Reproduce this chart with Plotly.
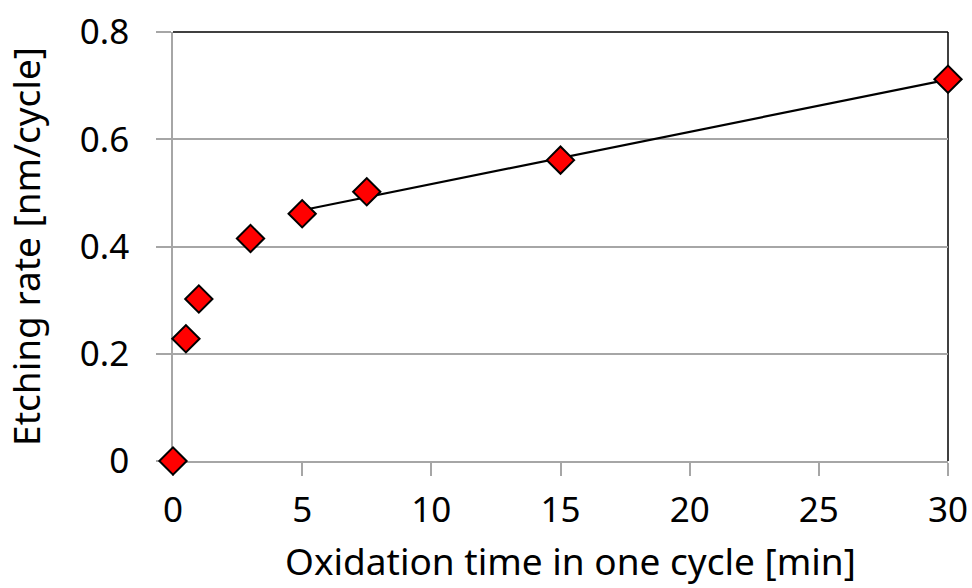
import numpy as np
import plotly.graph_objects as go

# Oxidation time per cycle [min] and measured etching rate [nm/cycle]
oxidation_min = [0, 0.5, 1, 3, 5, 7.5, 15, 30]
etch_rate = [0.0, 0.228, 0.302, 0.415, 0.461, 0.502, 0.561, 0.712]

# Linear trend fitted over the 5–30 min range
fit_x = [5, 7.5, 15, 30]
fit_y = [0.461, 0.502, 0.561, 0.712]

x_ticks = [0, 5, 10, 15, 20, 25, 30]
y_ticks = [0, 0.2, 0.4, 0.6, 0.8]
y_tick_text = ["0", "0.2", "0.4", "0.6", "0.8"]

x_title = "Oxidation time in one cycle [min]"
y_title = "Etching rate [nm/cycle]"

slope, intercept = np.polyfit(fit_x, fit_y, 1)
line_x = [min(fit_x), max(fit_x)]
line_y = [slope * v + intercept for v in line_x]

FONT = "Noto Sans"
GRAY = "#a6a6a6"
TICK_SIZE = 35
TITLE_SIZE = 37

fig = go.Figure()
fig.add_trace(go.Scatter(
    x=line_x, y=line_y, mode="lines",
    line=dict(color="black", width=2.2),
    hoverinfo="skip", showlegend=False,
))
fig.add_trace(go.Scatter(
    x=oxidation_min, y=etch_rate, mode="markers",
    marker=dict(symbol="diamond", size=21, color="#ff0000",
                line=dict(color="black", width=2)),
    showlegend=False, cliponaxis=False,
))

fig.update_layout(
    width=972, height=588,
    margin=dict(l=173, r=24, t=32, b=127),
    paper_bgcolor="white", plot_bgcolor="white",
    font=dict(family=FONT, color="black", size=TICK_SIZE),
    xaxis=dict(
        range=[0, 30], tickvals=x_ticks, ticks="outside", ticklen=13,
        tickcolor=GRAY, tickwidth=1.5, showline=True, linecolor=GRAY,
        linewidth=1.5, showgrid=False, zeroline=False, layer="below traces",
        automargin=False, ticklabelstandoff=4,
        tickfont=dict(size=TICK_SIZE, family=FONT),
    ),
    yaxis=dict(
        range=[0, 0.8], tickvals=y_ticks, ticktext=y_tick_text,
        ticks="outside", ticklen=15, tickcolor=GRAY, tickwidth=1.5,
        showline=True, linecolor=GRAY, linewidth=1.5, layer="below traces",
        showgrid=True, gridcolor=GRAY, gridwidth=1.5, zeroline=False,
        automargin=False, ticklabelstandoff=20,
        tickfont=dict(size=TICK_SIZE, family=FONT),
        title=dict(text=y_title,
                   font=dict(size=TITLE_SIZE, family=FONT), standoff=30),
    ),
    annotations=[
        dict(text=x_title, xref="paper", yref="paper", x=0.5135, y=0,
             xanchor="center", yanchor="top", yshift=-73, showarrow=False,
             borderpad=0,
             font=dict(size=TITLE_SIZE, family=FONT, color="black")),
    ],
    shapes=[
        dict(type="line", xref="paper", yref="paper", x0=0, x1=1, y0=1, y1=1,
             layer="below", line=dict(color="black", width=1.5)),
        dict(type="line", xref="paper", yref="paper", x0=1, x1=1, y0=0, y1=1,
             layer="below", line=dict(color="black", width=1.5)),
    ],
)

fig.write_html("out.html")
